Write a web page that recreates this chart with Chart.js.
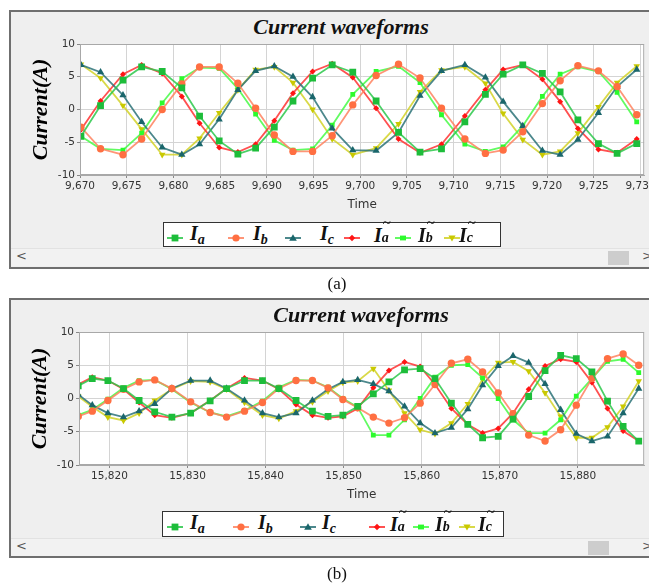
<!DOCTYPE html>
<html>
<head>
<meta charset="utf-8">
<title>Current waveforms</title>
<script src="https://cdn.jsdelivr.net/npm/chart.js@4.4.0/dist/chart.umd.min.js"></script>
<style>
  body { margin: 0; width: 649px; height: 586px; background: #fff; position: relative; overflow: hidden; font-family: "DejaVu Sans", sans-serif; }
  .abs { position: absolute; }
  .panel { position: absolute; left: 9px; width: 680px; border: 2px solid #6f6f6f; background: #efefef; box-sizing: border-box; }
  .title { position: absolute; font: bold italic 22px "Liberation Serif", serif; color: #111; white-space: nowrap; transform: translateX(-50%); }
  .legend { position: absolute; background: #fff; border: 1.5px solid #333; box-sizing: border-box; }
  .legend .ic { position: absolute; top: 6px; }
  .legend .lab { position: absolute; top: -1px; font: bold italic 20px "Liberation Serif", serif; color: #111; white-space: nowrap; }
  .legend .lab sub { font-size: 14px; vertical-align: -4px; }
  .legend .st { display: inline-block; position: relative; width: 9px; height: 20px; }
  .legend .st .t { position: absolute; left: 1px; top: -7px; font: normal 15px "Liberation Serif", serif; }
  .legend .st .s { position: absolute; left: 0; top: 8px; font-size: 14px; }
  .scroll { position: absolute; left: 11px; width: 638px; height: 17px; background: #f2f2f2; border-top: 1px solid #e2e2e2; }
  .scroll .thumb { position: absolute; top: 2px; width: 21px; height: 14px; background: #cdcdcd; }
  .scroll .arr { position: absolute; top: -1px; font: 13px "DejaVu Sans", sans-serif; color: #555; }
  .cap { position: absolute; font: 17px "Liberation Serif", serif; color: #111; transform: translateX(-50%); }
</style>
</head>
<body>
<div class="panel" style="top:10px;height:259px"></div>
<div class="title" style="left:341px;top:14px">Current waveforms</div>
<div class="abs" style="left:10px;top:34px;width:639px;height:186px"><canvas id="chartA" width="639" height="186"></canvas></div>
<div class="legend" id="legendA" style="left:163px;top:222px;width:338px;height:25px"></div>
<div class="scroll" style="top:248px"><span class="arr" style="left:5px">&lt;</span><div class="thumb" style="left:597px"></div><span class="arr" style="left:631px">&gt;</span></div>
<div class="cap" style="left:337px;top:274px">(a)</div>

<div class="panel" style="top:298px;height:260px"></div>
<div class="title" style="left:361px;top:302px">Current waveforms</div>
<div class="abs" style="left:9px;top:322px;width:640px;height:188px"><canvas id="chartB" width="640" height="188"></canvas></div>
<div class="legend" id="legendB" style="left:162px;top:511px;width:342px;height:26px"></div>
<div class="scroll" style="top:538px"><span class="arr" style="left:5px">&lt;</span><div class="thumb" style="left:577px"></div><span class="arr" style="left:631px">&gt;</span></div>
<div class="cap" style="left:337px;top:564px">(b)</div>

<script>
// ---------- data (a): steady state ----------
const timeA = [9670.1, 9672.2, 9674.6, 9676.6, 9678.8, 9680.9, 9682.8, 9684.9, 9686.9, 9688.8,
  9690.8, 9692.8, 9694.9, 9697.0, 9699.2, 9701.7, 9704.1, 9706.4, 9708.7, 9711.2,
  9713.4, 9715.3, 9717.4, 9719.5, 9721.4, 9723.3, 9725.5, 9727.5, 9729.6];
const iaA = [-4.1, 0.6, 4.5, 6.5, 5.8, 3.3, -1.0, -4.8, -6.8, -5.9, -2.7, 1.3, 4.8, 6.8, 5.7, 1.3, -3.5, -6.5, -6.0, -1.9, 2.3, 5.4, 6.8, 5.5, 2.7, -1.6, -5.2, -6.7, -5.2];
const ibA = [-2.7, -6.0, -6.9, -4.5, 0.0, 3.9, 6.5, 6.5, 4.0, 0.2, -3.9, -6.4, -6.4, -4.0, 0.7, 5.2, 6.9, 4.8, 0.2, -4.5, -6.7, -6.2, -3.4, 0.9, 4.4, 6.7, 5.9, 3.5, -0.8];
const icA = [6.8, 5.7, 2.2, -1.9, -5.8, -6.9, -5.3, -1.5, 3.0, 5.9, 6.6, 5.0, 1.9, -2.9, -6.2, -6.3, -3.5, 2.1, 5.9, 6.8, 4.9, 1.2, -2.5, -6.3, -6.9, -4.6, -0.5, 3.5, 6.1];
const iaEstA = [-3.1, 1.3, 5.4, 6.8, 5.5, 2.0, -2.1, -5.8, -6.5, -5.3, -1.7, 2.5, 5.8, 7.0, 4.9, 0.2, -4.5, -6.6, -5.3, -1.0, 3.0, 6.1, 6.8, 4.6, 1.2, -2.9, -6.1, -6.6, -4.5];
const ibEstA = [-4.1, -6.0, -6.2, -3.6, 1.0, 4.7, 6.4, 6.3, 3.2, -0.7, -4.7, -6.2, -6.0, -2.4, 2.3, 5.8, 6.6, 4.1, -0.8, -5.3, -6.4, -5.7, -2.5, 2.0, 5.4, 6.5, 5.8, 2.6, -1.9];
const icEstA = [6.9, 4.8, 0.6, -3.0, -6.9, -6.9, -4.4, -0.5, 3.0, 6.1, 6.5, 4.1, 0.0, -4.5, -6.9, -5.9, -2.2, 2.7, 6.0, 6.5, 4.0, -0.6, -4.6, -6.9, -6.4, -3.6, 0.4, 4.1, 6.6];
const rangeA = [9670, 9730.4];

// ---------- data (b): load step ----------
const timeB = [15816.0, 15817.8, 15819.8, 15821.8, 15823.8, 15825.8, 15828.0, 15830.4, 15832.9, 15835.0, 15837.3, 15839.6,
  15841.7, 15843.9, 15846.0, 15848.0, 15849.9, 15851.8, 15853.8, 15855.8, 15857.8, 15859.8, 15861.7, 15863.8,
  15865.9, 15867.8, 15869.8, 15871.7, 15873.7, 15875.8, 15877.8, 15879.8, 15881.8, 15883.8, 15885.8, 15887.8];
const iaB = [1.9, 3.0, 2.7, 1.5, -0.3, -2.0, -2.8, -2.2, -0.35, 1.5, 2.7, 2.7, 1.5, -0.3, -1.9, -2.7, -2.5, -1.2, 0.7, 2.5, 4.3, 4.5, 3.0, -0.7, -3.9, -5.9, -5.7, -3.1, 0.3, 4.2, 6.5, 6.0, 4.0, -0.4, -4.2, -6.4];
const ibB = [-2.7, -1.9, -0.3, 1.4, 2.5, 2.8, 1.5, -0.5, -2.1, -2.8, -1.9, -0.6, 1.5, 2.7, 2.7, 1.6, -0.15, -1.4, -2.8, -3.7, -2.9, -0.7, 2.1, 5.3, 5.9, 4.0, 0.85, -2.3, -5.5, -6.4, -4.7, -1.0, 3.0, 6.0, 6.7, 5.0];
const icB = [0.6, -1.0, -2.2, -2.8, -1.9, -0.8, 1.5, 2.7, 2.7, 1.5, -0.3, -2.2, -2.8, -2.2, -0.3, 1.4, 2.5, 2.8, 2.2, 1.1, -1.2, -3.7, -5.2, -4.4, -1.6, 2.0, 4.9, 6.4, 5.4, 2.2, -1.7, -5.3, -6.4, -5.7, -2.2, 1.5];
const iaEstB = [2.1, 3.2, 2.7, 1.4, -0.6, -2.5, -2.9, -2.2, -0.3, 1.5, 3.1, 2.7, 1.4, -0.9, -2.5, -2.9, -2.7, -1.5, 1.6, 4.2, 5.5, 4.8, 2.1, -1.5, -3.9, -5.2, -4.5, -2.2, 1.4, 4.9, 5.9, 5.5, 2.4, -1.5, -4.9, -6.4];
const ibEstB = [-2.5, -1.7, -0.1, 1.6, 2.7, 2.8, 1.4, -0.6, -2.1, -2.7, -1.8, -0.4, 1.7, 2.8, 2.7, 1.7, 0.0, -1.3, -5.5, -5.5, -3.2, 0.0, 3.2, 5.0, 5.1, 3.1, 0.0, -3.2, -5.2, -5.2, -3.2, 0.35, 3.0, 5.6, 5.9, 3.9];
const icEstB = [0.35, -1.25, -2.8, -3.3, -2.2, -0.3, 1.4, 2.6, 2.5, 1.4, -0.6, -2.5, -3.0, -1.9, -0.5, 1.1, 2.4, 2.6, 4.5, 1.2, -2.2, -4.7, -5.3, -3.7, -0.8, 2.9, 5.4, 5.5, 4.1, 0.85, -2.7, -5.9, -5.9, -4.3, -1.2, 2.6];
const rangeB = [15816.1, 15888.5];

const yRange = [-10, 10];

(() => {
  "use strict";

  // ---------- series look ----------
  const SERIES = [
    { name: "a", est: false, marker: "#1dbd3a", line: "rgba(45,200,75,0.85)", style: "rect", r: 4.8, rot: 0 },
    { name: "b", est: false, marker: "#ff6f42", line: "rgba(255,130,95,0.85)", style: "circle", r: 3.7, rot: 0 },
    { name: "c", est: false, marker: "#1a666b", line: "rgba(45,115,120,0.85)", style: "triangle", r: 4.2, rot: 0 },
    { name: "a", est: true, marker: "#ff1414", line: "rgba(255,50,50,0.85)", style: "rectRot", r: 3.0, rot: 0 },
    { name: "b", est: true, marker: "#2cfb2c", line: "rgba(70,250,70,0.85)", style: "rect", r: 3.4, rot: 0 },
    { name: "c", est: true, marker: "#c9c900", line: "rgba(210,210,40,0.85)", style: "triangle", r: 3.8, rot: 180 },
  ];

  const toPoints = (xs, ys) => xs.map((x, i) => ({ x, y: ys[i] }));

  // white plot background + outline, like the Java chart
  const plotFrame = {
    id: "plotFrame",
    beforeDraw(chart) {
      const { ctx, chartArea: a } = chart;
      ctx.save();
      ctx.fillStyle = "#ffffff";
      ctx.fillRect(a.left, a.top, a.right - a.left, a.bottom - a.top);
      ctx.restore();
    },
    afterDraw(chart) {
      const { ctx, chartArea: a } = chart;
      ctx.save();
      ctx.strokeStyle = "#a8a8a8";
      ctx.lineWidth = 1;
      ctx.strokeRect(a.left + 0.5, a.top + 0.5, a.right - a.left - 1, a.bottom - a.top - 1);
      ctx.restore();
    },
  };

  function makeChart(id, time, series, range, step) {
    const datasets = series.map((vals, i) => {
      const s = SERIES[i];
      return {
        label: (s.est ? "I~" : "I") + s.name,
        data: toPoints(time, vals),
        borderColor: s.line,
        backgroundColor: s.marker,
        borderWidth: 1.8,
        pointStyle: s.style,
        pointRadius: s.r,
        pointRotation: s.rot,
        pointBackgroundColor: s.marker,
        pointBorderColor: s.marker,
        pointBorderWidth: 0,
        tension: 0,
      };
    });

    return new Chart(document.getElementById(id), {
      type: "line",
      data: { datasets },
      plugins: [plotFrame],
      options: {
        responsive: false,
        animation: false,
        devicePixelRatio: 1,
        layout: { padding: { top: 10, right: 4, left: 0, bottom: 0 } },
        plugins: { legend: { display: false }, tooltip: { enabled: false } },
        scales: {
          x: {
            type: "linear",
            min: range[0],
            max: range[1],
            grid: { color: "#d4d4d4", borderDash: [2, 2], tickLength: 3, tickColor: "#888", tickBorderDash: [] },
            border: { display: true, color: "#a8a8a8" },
            ticks: { stepSize: step, includeBounds: false, padding: 2, color: "#333", font: { family: "DejaVu Sans", size: 10.5 }, maxRotation: 0 },
            title: { display: true, text: "Time", color: "#333", font: { family: "DejaVu Sans", size: 12 }, padding: { top: 0, bottom: 8 } },
            afterFit: (s) => { s.height = 45; s.paddingLeft = 0; s.paddingRight = 0; },
          },
          y: {
            min: yRange[0],
            max: yRange[1],
            grid: { color: "#d4d4d4", borderDash: [2, 2], tickLength: 3, tickColor: "#888", tickBorderDash: [] },
            border: { display: true, color: "#a8a8a8" },
            ticks: { stepSize: 5, padding: 2, color: "#333", font: { family: "DejaVu Sans", size: 10.5 } },
            title: { display: true, text: "Current(A)", color: "#000", font: { family: "Liberation Serif", size: 22, style: "italic", weight: "bold" }, padding: { top: 18, bottom: 0 } },
            afterFit: (s) => { s.width = 70; s.paddingTop = 0; s.paddingBottom = 0; },
          },
        },
      },
    });
  }

  // ---------- legend ----------
  function iconSvg(s) {
    const c = s.marker, cx = 8, cy = 6;
    let m;
    if (s.style === "circle") m = `<circle cx="${cx}" cy="${cy}" r="3.6" fill="${c}"/>`;
    else if (s.style === "rectRot") m = `<polygon points="${cx},${cy - 3.2} ${cx + 3.2},${cy} ${cx},${cy + 3.2} ${cx - 3.2},${cy}" fill="${c}"/>`;
    else if (s.style === "triangle" && s.rot) m = `<polygon points="${cx - 3.6},${cy - 2.6} ${cx + 3.6},${cy - 2.6} ${cx},${cy + 3.6}" fill="${c}"/>`;
    else if (s.style === "triangle") m = `<polygon points="${cx - 3.8},${cy + 2.8} ${cx + 3.8},${cy + 2.8} ${cx},${cy - 3.8}" fill="${c}"/>`;
    else {
      const h = s.est ? 2.4 : 3.4, w = s.est ? 3 : 3.4;
      m = `<rect x="${cx - w}" y="${cy - h}" width="${2 * w}" height="${2 * h}" fill="${c}"/>`;
    }
    return `<svg width="16" height="12"><line x1="0" y1="6" x2="16" y2="6" stroke="${s.line}" stroke-width="2"/>${m}</svg>`;
  }

  function labelHtml(s) {
    if (!s.est) return `I<sub>${s.name}</sub>`;
    return `I<span class="st"><span class="t">~</span><span class="s">${s.name}</span></span>`;
  }

  function buildLegend(id, iconX, labelX) {
    const box = document.getElementById(id);
    SERIES.forEach((s, i) => {
      const ic = document.createElement("span");
      ic.className = "ic";
      ic.style.left = iconX[i] + "px";
      ic.innerHTML = iconSvg(s);
      box.appendChild(ic);
      const lb = document.createElement("span");
      lb.className = "lab";
      lb.style.left = labelX[i] + "px";
      lb.innerHTML = labelHtml(s);
      box.appendChild(lb);
    });
  }

  makeChart("chartA", timeA, [iaA, ibA, icA, iaEstA, ibEstA, icEstA], rangeA, 5);
  makeChart("chartB", timeB, [iaB, ibB, icB, iaEstB, ibEstB, icEstB], rangeB, 10);

  buildLegend("legendA", [3, 64, 121, 180, 231, 280], [26, 89, 156, 210, 254, 295]);
  buildLegend("legendB", [4, 70, 137, 206, 250, 296], [27, 95, 159, 227, 272, 315]);
})();
</script>
</body>
</html>
